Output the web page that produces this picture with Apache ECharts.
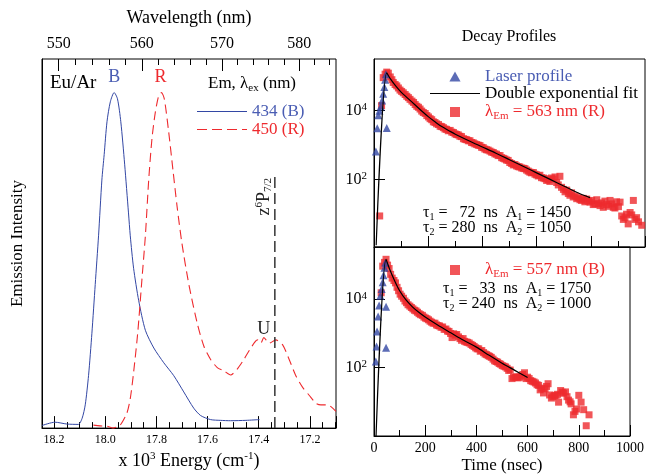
<!DOCTYPE html>
<html><head><meta charset="utf-8">
<script src="https://cdn.jsdelivr.net/npm/echarts@6/dist/echarts.min.js"></script>
<style>html,body{margin:0;padding:0;background:#fff}#c{width:647px;height:475px}</style>
</head><body><div id="c"></div>
<script>
// ---------- Left panel: emission spectra (x 10^3 cm^-1, normalised intensity) ----------
const energy434 = [18.247, 18.196, 18.15, 18.105, 18.09, 18.078, 18.065, 18.052, 18.039, 18.026, 18.013, 18.004, 17.993, 17.98, 17.965, 17.952, 17.939, 17.924, 17.909, 17.902, 17.889, 17.869, 17.843, 17.81, 17.771, 17.732, 17.693, 17.654, 17.627, 17.588, 17.55, 17.51, 17.45, 17.397];
const int434    = [0.007, 0.016, 0.011, 0.010, 0.027, 0.063, 0.143, 0.257, 0.389, 0.521, 0.672, 0.741, 0.83, 0.884, 0.909, 0.892, 0.83, 0.715, 0.583, 0.521, 0.433, 0.345, 0.265, 0.217, 0.177, 0.142, 0.098, 0.054, 0.034, 0.023, 0.021, 0.020, 0.021, 0.023];
const energy450 = [18.046, 18.02, 17.993, 17.97, 17.955, 17.941, 17.915, 17.902, 17.889, 17.873, 17.856, 17.843, 17.83, 17.817, 17.804, 17.791, 17.78, 17.769, 17.752, 17.735, 17.719, 17.7, 17.673, 17.64, 17.614, 17.588, 17.562, 17.536, 17.51, 17.484, 17.458, 17.431, 17.405, 17.392, 17.38, 17.359, 17.333, 17.307, 17.281, 17.255, 17.229, 17.203, 17.176, 17.157, 17.13, 17.111, 17.098];
const int450    = [0.008, 0.006, 0.005, 0.0, 0.003, 0.008, 0.041, 0.08, 0.151, 0.257, 0.407, 0.521, 0.672, 0.786, 0.856, 0.9, 0.909, 0.892, 0.803, 0.698, 0.6, 0.5, 0.389, 0.283, 0.221, 0.186, 0.164, 0.155, 0.144, 0.16, 0.186, 0.217, 0.239, 0.23, 0.245, 0.23, 0.239, 0.226, 0.186, 0.142, 0.111, 0.089, 0.067, 0.063, 0.063, 0.054, 0.045];
const levelEnergy = 17.337;       // z6P7/2 level
const levelTop = 0.683;
const energyRange = [17.098, 18.247];
const wlMajor = [550, 560, 570, 580];
const wlMinor = [552, 554, 556, 558, 562, 564, 566, 568, 572, 574, 576, 578, 582, 584];

// ---------- Right panels: decay profiles [time ns, log10 counts] ----------
const decay563 = [[21,0.95],[28,4.15],[34,4.96],[41,5.06],[47,5.12],[53,5.09],[60,4.98],[66,4.9],[71,4.82],[78,4.76],[84,4.72],[90,4.66],[96,4.6],[102,4.56],[108,4.52],[115,4.47],[121,4.42],[127,4.38],[133,4.33],[140,4.28],[146,4.24],[152,4.18],[158,4.13],[164,4.1],[170,4.05],[176,3.99],[182,3.95],[189,3.92],[195,3.86],[201,3.82],[207,3.77],[213,3.74],[219,3.68],[225,3.66],[231,3.62],[238,3.6],[244,3.55],[250,3.54],[256,3.51],[262,3.47],[268,3.46],[274,3.42],[281,3.43],[287,3.38],[293,3.37],[299,3.33],[305,3.31],[311,3.3],[317,3.26],[323,3.25],[330,3.19],[336,3.17],[342,3.16],[348,3.13],[354,3.13],[360,3.08],[366,3.07],[372,3.04],[379,3.02],[385,3.0],[391,2.99],[397,2.94],[403,2.93],[409,2.89],[415,2.87],[421,2.86],[428,2.83],[434,2.8],[440,2.79],[446,2.75],[452,2.74],[458,2.7],[465,2.7],[471,2.64],[477,2.62],[483,2.6],[489,2.57],[495,2.56],[501,2.5],[508,2.47],[514,2.43],[520,2.44],[526,2.4],[532,2.38],[538,2.37],[545,2.34],[551,2.33],[557,2.32],[563,2.28],[569,2.25],[575,2.22],[581,2.2],[588,2.21],[594,2.16],[600,2.14],[606,2.11],[612,2.13],[618,2.06],[625,2.05],[631,2.03],[637,1.98],[643,2.0],[649,1.95],[655,2.05],[661,2.02],[668,2.08],[674,1.92],[680,1.85],[686,2.1],[692,1.78],[699,1.72],[705,1.65],[711,1.7],[717,1.6],[723,1.55],[729,1.62],[735,1.5],[742,1.53],[748,1.45],[754,1.48],[760,1.42],[766,1.4],[772,1.46],[778,1.36],[785,1.44],[791,1.38],[797,1.35],[803,1.4],[809,1.28],[815,1.3],[822,1.42],[828,1.3],[834,1.25],[840,1.33],[846,1.2],[852,1.38],[858,1.28],[865,1.23],[871,1.4],[877,1.3],[883,1.2],[889,1.18],[895,1.36],[902,1.22],[908,1.35],[914,0.95],[920,0.85],[926,0.9],[932,1.0],[938,0.72],[945,1.05],[951,0.98],[957,1.4],[963,0.85],[969,0.9],[976,0.78],[988,0.68]];
const laser563 = [[7,2.82],[12,3.49],[16,3.87],[20,4.0],[25,4.12],[30,4.3],[34,4.49],[38,4.69],[41,4.9],[44,5.06],[47,3.5]];
const fit563 = [[8,0.1],[47,5.1],[60,4.93],[80,4.72],[100,4.54],[125,4.36],[150,4.18],[175,4.0],[200,3.83],[225,3.68],[250,3.54],[275,3.43],[300,3.32],[350,3.13],[400,2.95],[450,2.77],[500,2.58],[550,2.39],[600,2.2],[650,2.01],[700,1.82],[750,1.63],[797,1.48]];
const decay557 = [[28,4.19],[34,4.97],[41,5.08],[47,5.17],[53,5.0],[59,4.9],[65,4.73],[71,4.62],[78,4.55],[84,4.48],[90,4.35],[96,4.25],[102,4.15],[108,4.09],[115,4.03],[121,3.95],[127,3.9],[133,3.84],[140,3.8],[146,3.76],[152,3.72],[158,3.68],[164,3.66],[170,3.62],[176,3.58],[182,3.55],[189,3.53],[195,3.48],[201,3.45],[207,3.43],[213,3.4],[219,3.36],[225,3.33],[231,3.3],[238,3.3],[244,3.25],[250,3.23],[256,3.22],[262,3.18],[268,3.19],[274,3.12],[281,3.13],[287,3.07],[293,3.06],[299,3.0],[305,2.88],[311,2.99],[317,2.95],[323,2.97],[330,2.9],[336,2.85],[342,2.8],[348,2.85],[354,2.77],[360,2.75],[366,2.74],[372,2.72],[379,2.68],[385,2.65],[391,2.62],[397,2.58],[403,2.55],[409,2.55],[415,2.48],[421,2.5],[428,2.44],[434,2.4],[440,2.38],[446,2.35],[452,2.33],[458,2.3],[465,2.25],[471,2.2],[477,2.18],[483,2.16],[489,2.12],[495,2.1],[501,2.06],[508,2.04],[514,2.02],[520,1.98],[526,1.92],[532,1.93],[539,1.68],[545,1.72],[551,1.72],[557,1.73],[563,1.7],[569,1.72],[575,1.76],[581,1.8],[588,1.85],[594,1.68],[600,1.72],[606,1.68],[612,1.62],[618,1.6],[625,1.58],[631,1.55],[637,1.5],[643,1.48],[649,1.35],[655,1.4],[662,1.26],[668,1.38],[674,1.45],[680,1.53],[686,1.2],[693,1.11],[699,1.15],[705,1.18],[711,1.19],[717,1.22],[721,0.99],[729,1.33],[735,1.28],[741,1.25],[748,1.29],[754,1.15],[760,1.05],[766,1.0],[770,0.94],[779,0.62],[785,0.72],[791,0.79],[800,1.19],[809,0.99],[819,0.77],[829,0.3],[840,0.62]];
const laser557 = [[7,2.18],[10,2.62],[12,3.06],[16,3.5],[20,3.82],[25,4.1],[30,4.3],[34,4.5],[37,4.7],[41,4.92],[44,5.07],[47,3.78],[47,2.58]];
const fit557 = [[8,0.0],[47,5.17],[60,4.9],[80,4.55],[100,4.25],[125,3.98],[150,3.78],[175,3.62],[200,3.48],[250,3.24],[300,3.02],[350,2.8],[400,2.6],[450,2.36],[500,2.13],[550,1.92],[600,1.71]];
const logTickValues = [100, 10000];
const topLogRange = [0.05, 5.5];      // log10 extent, upper panel
const bottomLogRange = [0.0, 5.53];   // log10 extent, lower panel

// ---------- styles ----------
const SERIF = 'Liberation Serif';
const BLUE = '#3347a4', BLUE_T = '#4a5db3', RED = '#ee2a2e', BLACK = '#000';
const zip = (xs, ys) => xs.map((x, i) => [x, ys[i]]);
const unlog = arr => arr.map(p => [p[0], Math.pow(10, p[1])]);
// legend icons (fixed-aspect paths)
const ICON_TRI = 'path://M5,0L10,9L0,9Z';
const ICON_SQ = 'path://M0,0H10V10H0Z';
const ICON_LINE = 'path://M0,0H50V1.2H0Z';
const ICON_DASH = 'path://M0,0H10V1.2H0Z M15,0H25V1.2H15Z M30,0H40V1.2H30Z M45,0H50V1.2H45Z';

const chart = echarts.init(document.getElementById('c'), null, {renderer: 'canvas'});

const timeAxis = (grid, withLabels) => ({
  type: 'value', gridIndex: grid, min: 0, max: 1000, interval: 200,
  axisLine: {lineStyle: {color: BLACK}},
  axisTick: {inside: true, length: 11, lineStyle: {color: BLACK}},
  minorTick: {show: true, splitNumber: 2, length: 6, lineStyle: {color: BLACK}},
  splitLine: {show: false},
  axisLabel: {show: withLabels, fontFamily: SERIF, fontSize: 14, color: BLACK, margin: 5, formatter: v => String(v)},
  name: withLabels ? 'Time (nsec)' : '', nameLocation: 'middle', nameGap: 21,
  nameTextStyle: {fontFamily: SERIF, fontSize: 17, color: BLACK}
});
const logAxis = (grid, range) => ({
  type: 'log', gridIndex: grid, logBase: 10,
  min: Math.pow(10, range[0]), max: Math.pow(10, range[1]),
  axisLine: {lineStyle: {color: BLACK}},
  axisTick: {inside: true, length: 11, customValues: logTickValues, lineStyle: {color: BLACK}},
  splitLine: {show: false}, minorTick: {show: false},
  axisLabel: {
    customValues: logTickValues, margin: 7,
    formatter: v => '{b|10}{s|' + Math.round(Math.log10(v)) + '}',
    rich: {b: {fontFamily: SERIF, fontSize: 16, color: BLACK, lineHeight: 18},
           s: {fontFamily: SERIF, fontSize: 11, color: BLACK, verticalAlign: 'top'}}
  }
});

const lamRich = {
  l: {fontFamily: SERIF, fontSize: 17, color: RED, lineHeight: 20},
  e: {fontFamily: SERIF, fontSize: 11, color: RED, verticalAlign: 'bottom'}
};
const lamFmt = name => name.indexOf('λEm') === 0 ? '{l|λ}{e|Em}{l|' + name.slice(3) + '}' : name;

const option = {
  animation: false,
  backgroundColor: '#fff',
  textStyle: {fontFamily: SERIF},
  grid: [
    {left: 42, top: 59, width: 294, height: 378, show: true, borderColor: BLACK, borderWidth: 1},
    {left: 374, top: 59, width: 271, height: 188, show: true, borderColor: BLACK, borderWidth: 1},
    {left: 374, top: 247, width: 271, height: 190, show: true, borderColor: BLACK, borderWidth: 1}
  ],
  xAxis: [
    { // 0: energy
      type: 'value', gridIndex: 0, inverse: true, min: energyRange[0], max: energyRange[1], splitNumber: 5,
      axisLine: {lineStyle: {color: BLACK}},
      axisTick: {inside: true, length: 12, lineStyle: {color: BLACK}},
      minorTick: {show: true, splitNumber: 4, length: 6, lineStyle: {color: BLACK}},
      splitLine: {show: false},
      axisLabel: {fontFamily: SERIF, fontSize: 12, color: BLACK, margin: 6, showMinLabel: false, showMaxLabel: false,
                  formatter: v => v.toFixed(1)},
      name: '{a|x 10}{s|3}{a| Energy (cm}{s|-1}{a|)}', nameLocation: 'middle', nameGap: 18,
      nameTextStyle: {rich: {a: {fontFamily: SERIF, fontSize: 18, color: BLACK, lineHeight: 20},
                             s: {fontFamily: SERIF, fontSize: 11, color: BLACK, verticalAlign: 'top'}}}
    },
    { // 1: wavelength major
      type: 'value', gridIndex: 0, position: 'top', inverse: true, min: energyRange[0], max: energyRange[1],
      axisLine: {show: false},
      axisTick: {inside: true, length: 12, customValues: wlMajor.map(w => 1e4 / w), lineStyle: {color: BLACK}},
      splitLine: {show: false},
      axisLabel: {customValues: wlMajor.map(w => 1e4 / w), formatter: v => String(Math.round(1e4 / v)),
                  fontFamily: SERIF, fontSize: 16, color: BLACK, margin: 7},
      name: 'Wavelength (nm)', nameLocation: 'middle', nameGap: 32,
      nameTextStyle: {fontFamily: SERIF, fontSize: 18, color: BLACK}
    },
    { // 2: wavelength minor
      type: 'value', gridIndex: 0, position: 'top', inverse: true, min: energyRange[0], max: energyRange[1],
      axisLine: {show: false},
      axisTick: {inside: true, length: 6, customValues: wlMinor.map(w => 1e4 / w), lineStyle: {color: BLACK}},
      splitLine: {show: false},
      axisLabel: {show: false}
    },
    timeAxis(1, false),
    timeAxis(2, true)
  ],
  yAxis: [
    {
      type: 'value', gridIndex: 0, min: 0, max: 1,
      axisLine: {lineStyle: {color: BLACK}}, axisTick: {show: false}, axisLabel: {show: false},
      splitLine: {show: false},
      name: 'Emission Intensity', nameLocation: 'middle', nameGap: 16, nameRotate: 90,
      nameTextStyle: {fontFamily: SERIF, fontSize: 17, color: BLACK}
    },
    logAxis(1, topLogRange),
    logAxis(2, bottomLogRange)
  ],
  legend: [
    {
      orient: 'vertical', left: 192, top: 98, itemWidth: 50, itemHeight: 10, itemGap: 1,
      selectedMode: false, symbolKeepAspect: true, align: 'left',
      textStyle: {fontFamily: SERIF, fontSize: 17, lineHeight: 17},
      data: [{name: '434 (B)', icon: ICON_LINE, itemStyle: {color: BLUE}, textStyle: {color: BLUE_T}},
             {name: '450 (R)', icon: ICON_DASH, itemStyle: {color: RED}, textStyle: {color: RED}}]
    },
    {
      orient: 'vertical', left: 425, top: 63, itemWidth: 50, itemHeight: 10, itemGap: 0,
      selectedMode: false, symbolKeepAspect: true, align: 'left',
      textStyle: {fontFamily: SERIF, fontSize: 17, lineHeight: 17, rich: lamRich},
      formatter: lamFmt,
      data: [{name: 'Laser profile', icon: ICON_TRI, itemStyle: {color: BLUE}, textStyle: {color: BLUE_T}},
             {name: 'Double exponential fit', icon: ICON_LINE, itemStyle: {color: BLACK}, textStyle: {color: BLACK}},
             {name: 'λEm = 563 nm (R)', icon: ICON_SQ, itemStyle: {color: RED}}]
    },
    {
      orient: 'vertical', left: 445, top: 255, itemWidth: 50, itemHeight: 10,
      selectedMode: false, symbolKeepAspect: true, align: 'left',
      textStyle: {fontFamily: SERIF, fontSize: 17, lineHeight: 17, rich: lamRich},
      formatter: lamFmt,
      data: [{name: 'λEm = 557 nm (B)', icon: ICON_SQ, itemStyle: {color: RED}}]
    }
  ],
  series: [
    {
      name: '434 (B)', type: 'line', xAxisIndex: 0, yAxisIndex: 0, data: zip(energy434, int434),
      symbol: 'none', smooth: 0.25, lineStyle: {color: BLUE, width: 1}, itemStyle: {color: BLUE},
      markPoint: {symbol: 'circle', symbolSize: 0, data: [{coord: [17.965, 0.95]}],
        label: {show: true, position: 'inside', formatter: 'B', fontFamily: SERIF, fontSize: 18, color: BLUE_T}}
    },
    {
      name: '450 (R)', type: 'line', xAxisIndex: 0, yAxisIndex: 0, data: zip(energy450, int450),
      symbol: 'none', smooth: 0.25, lineStyle: {color: RED, width: 1.1, type: [9, 5]}, itemStyle: {color: RED},
      markPoint: {symbol: 'circle', symbolSize: 0,
        data: [{coord: [17.784, 0.95], label: {formatter: 'R', color: RED}},
               {coord: [17.38, 0.267], label: {formatter: 'U', color: '#222'}}],
        label: {show: true, position: 'inside', fontFamily: SERIF, fontSize: 18}}
    },
    {
      name: 'z6P7/2', type: 'line', xAxisIndex: 0, yAxisIndex: 0,
      data: [[levelEnergy, 0], [levelEnergy, levelTop]],
      symbol: 'none', lineStyle: {color: '#333', width: 1.5, type: [11, 5]},
      markPoint: {symbol: 'circle', symbolSize: 0, data: [{coord: [17.38, 0.627]}],
        label: {show: true, position: 'inside', rotate: 90, formatter: '{n|z}{p|6}{n|P}{b|7/2}',
          rich: {n: {fontFamily: SERIF, fontSize: 18, color: '#222', lineHeight: 20},
                 p: {fontFamily: SERIF, fontSize: 11, color: '#222', verticalAlign: 'top'},
                 b: {fontFamily: SERIF, fontSize: 11, color: '#222', verticalAlign: 'bottom'}}}}
    },
    {
      name: 'λEm = 563 nm (R)', type: 'scatter', xAxisIndex: 3, yAxisIndex: 1, data: unlog(decay563),
      symbol: 'rect', symbolSize: 7, itemStyle: {color: RED}
    },
    {
      name: 'Laser profile', type: 'scatter', xAxisIndex: 3, yAxisIndex: 1, data: unlog(laser563),
      symbol: 'triangle', symbolSize: 8, itemStyle: {color: BLUE}
    },
    {
      name: 'Double exponential fit', type: 'line', xAxisIndex: 3, yAxisIndex: 1, data: unlog(fit563),
      symbol: 'none', smooth: 0.3, lineStyle: {color: BLACK, width: 1.2}, itemStyle: {color: BLACK}
    },
    {
      name: 'λEm = 557 nm (B)', type: 'scatter', xAxisIndex: 4, yAxisIndex: 2, data: unlog(decay557),
      symbol: 'rect', symbolSize: 7, itemStyle: {color: RED}
    },
    {
      name: 'Laser profile (557 nm)', type: 'scatter', xAxisIndex: 4, yAxisIndex: 2, data: unlog(laser557),
      symbol: 'triangle', symbolSize: 8, itemStyle: {color: BLUE}
    },
    {
      name: 'Double exponential fit (557 nm)', type: 'line', xAxisIndex: 4, yAxisIndex: 2, data: unlog(fit557),
      symbol: 'none', smooth: 0.3, lineStyle: {color: BLACK, width: 1.2}, itemStyle: {color: BLACK}
    }
  ],
  graphic: [
    {type: 'text', x: 50, y: 83, style: {text: 'Eu/Ar', fontFamily: SERIF, fontSize: 19, fill: BLACK, verticalAlign: 'middle'}},
    {type: 'text', x: 208, y: 84, style: {text: '{a|Em, λ}{s|ex}{a| (nm)}', verticalAlign: 'middle',
      rich: {a: {fontFamily: SERIF, fontSize: 17, fill: BLACK, lineHeight: 20},
             s: {fontFamily: SERIF, fontSize: 11, fill: BLACK, verticalAlign: 'bottom'}}}},
    {type: 'text', x: 509, y: 37, style: {text: 'Decay Profiles', fontFamily: SERIF, fontSize: 16, fill: BLACK, align: 'center', verticalAlign: 'middle'}},
    {type: 'text', x: 423, y: 213, style: {text: '{a|τ}{s|1}{a| =   72  ns  A}{s|1}{a| = 1450}', verticalAlign: 'middle',
      rich: {a: {fontFamily: SERIF, fontSize: 16, fill: BLACK, lineHeight: 18}, s: {fontFamily: SERIF, fontSize: 10, fill: BLACK, verticalAlign: 'bottom'}}}},
    {type: 'text', x: 423, y: 228, style: {text: '{a|τ}{s|2}{a| = 280  ns  A}{s|2}{a| = 1050}', verticalAlign: 'middle',
      rich: {a: {fontFamily: SERIF, fontSize: 16, fill: BLACK, lineHeight: 18}, s: {fontFamily: SERIF, fontSize: 10, fill: BLACK, verticalAlign: 'bottom'}}}},
    {type: 'text', x: 443, y: 289, style: {text: '{a|τ}{s|1}{a| =   33  ns  A}{s|1}{a| = 1750}', verticalAlign: 'middle',
      rich: {a: {fontFamily: SERIF, fontSize: 16, fill: BLACK, lineHeight: 18}, s: {fontFamily: SERIF, fontSize: 10, fill: BLACK, verticalAlign: 'bottom'}}}},
    {type: 'text', x: 443, y: 304, style: {text: '{a|τ}{s|2}{a| = 240  ns  A}{s|2}{a| = 1000}', verticalAlign: 'middle',
      rich: {a: {fontFamily: SERIF, fontSize: 16, fill: BLACK, lineHeight: 18}, s: {fontFamily: SERIF, fontSize: 10, fill: BLACK, verticalAlign: 'bottom'}}}}
  ]
};
chart.setOption(option);
</script>
</body></html>
